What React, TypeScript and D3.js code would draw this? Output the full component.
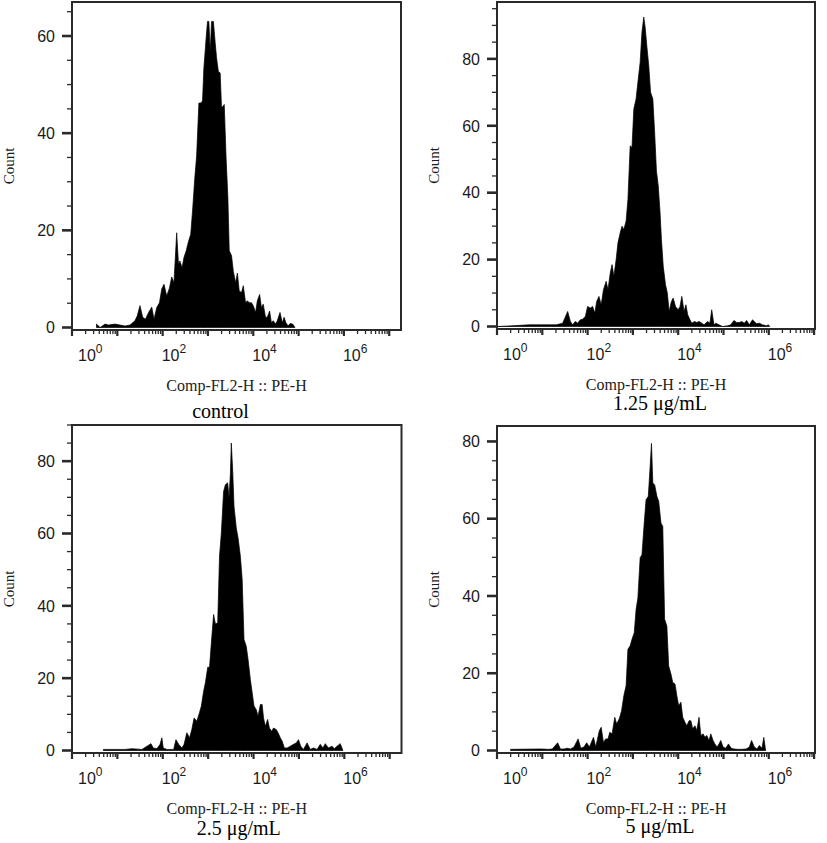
import * as d3 from 'd3';

// Flow cytometry histograms, Comp-FL2-H :: PE-H
const xAxisTitle = 'Comp-FL2-H :: PE-H';
const yAxisTitle = 'Count';
const decadeLabels = [0, 2, 4, 6];
const captions = ['control', '1.25 μg/mL', '2.5 μg/mL', '5 μg/mL'];
const countMax = [67, 97, 90, 84];
const fl2MaxExp = [7.26, 7.02, 7.26, 7.02];

// [log10(FL2-H), count]
const controlHist: [number, number][] = [
  [0.54, 0.7], [0.62, 0], [0.73, 0.7], [0.8, 0.5], [0.95, 0.7], [1.06, 0.5], [1.17, 0.3], [1.28, 0.5],
  [1.39, 1.4], [1.44, 2.4], [1.5, 4.5], [1.56, 2.1], [1.62, 1.7], [1.69, 3.1], [1.76, 4.2], [1.81, 1.7],
  [1.87, 4.1], [1.93, 5.1], [1.98, 7.9], [2.03, 8.9], [2.09, 6.5], [2.15, 8.1], [2.2, 10.4], [2.25, 9.2],
  [2.31, 19.5], [2.35, 13.0], [2.38, 13.7], [2.43, 12.3], [2.47, 14.4], [2.52, 15.8], [2.57, 17.7],
  [2.62, 19.2], [2.66, 24.0], [2.71, 30.8], [2.75, 35.3], [2.8, 46.2], [2.84, 46.2], [2.88, 46.6],
  [2.91, 53.4], [2.96, 59.6], [2.99, 63.0], [3.02, 63.0], [3.05, 56.8], [3.08, 63.0], [3.12, 63.0],
  [3.16, 58.6], [3.19, 55.5], [3.23, 52.7], [3.27, 52.4], [3.3, 45.2], [3.36, 45.9], [3.4, 35.0],
  [3.44, 26.7], [3.47, 15.8], [3.52, 14.8], [3.56, 11.6], [3.61, 9.2], [3.65, 11.2], [3.69, 7.5],
  [3.74, 7.2], [3.78, 8.6], [3.83, 5.1], [3.87, 5.5], [3.91, 5.1], [3.96, 5.1], [4.0, 4.5], [4.05, 3.1],
  [4.09, 5.5], [4.14, 6.8], [4.18, 4.1], [4.22, 4.8], [4.27, 2.1], [4.31, 2.1], [4.36, 3.4], [4.4, 1.0],
  [4.44, 1.4], [4.49, 0.7], [4.53, 1.4], [4.59, 3.1], [4.64, 1.0], [4.68, 2.1], [4.72, 1.0], [4.77, 0.3],
  [4.81, 0.8], [4.87, 0.7], [4.92, 0],
];

const dose125Hist: [number, number][] = [
  [0.0, 0.5], [0.03, 0], [0.72, 0.5], [0.98, 0.5], [1.2, 0.5], [1.31, 0.5], [1.45, 1.0], [1.56, 4.5],
  [1.62, 1.5], [1.67, 0.5], [1.73, 1.5], [1.78, 1.0], [1.84, 2.0], [1.89, 2.2], [1.95, 3.0], [2.0, 6.0],
  [2.06, 5.5], [2.11, 6.0], [2.16, 4.0], [2.2, 7.5], [2.25, 9.0], [2.3, 6.5], [2.35, 11.0], [2.41, 13.5],
  [2.45, 11.0], [2.5, 16.0], [2.54, 18.5], [2.58, 15.0], [2.63, 20.0], [2.67, 25.0], [2.72, 28.0],
  [2.76, 30.0], [2.8, 29.0], [2.85, 31.5], [2.89, 38.0], [2.94, 54.0], [2.98, 53.5], [3.02, 65.0],
  [3.07, 68.0], [3.11, 73.0], [3.16, 79.0], [3.2, 88.0], [3.24, 92.5], [3.27, 89.5], [3.31, 83.5],
  [3.35, 78.0], [3.39, 70.0], [3.44, 68.0], [3.48, 58.0], [3.52, 46.5], [3.56, 42.0], [3.6, 34.0],
  [3.63, 26.0], [3.67, 18.0], [3.72, 12.5], [3.76, 10.0], [3.8, 4.5], [3.85, 7.5], [3.89, 8.5],
  [3.94, 6.0], [4.0, 5.0], [4.04, 6.0], [4.08, 9.0], [4.13, 4.5], [4.17, 6.5], [4.21, 3.5], [4.26, 2.0],
  [4.3, 1.0], [4.36, 1.5], [4.41, 1.2], [4.46, 1.5], [4.52, 1.0], [4.57, 0.5], [4.65, 1.5], [4.7, 1.0],
  [4.74, 5.0], [4.79, 0.5], [4.83, 1.0], [4.9, 0.5], [4.98, 0], [5.09, 0.2], [5.16, 0.5], [5.23, 1.8],
  [5.29, 1.2], [5.35, 1.2], [5.4, 1.5], [5.46, 1.0], [5.51, 1.8], [5.57, 0.5], [5.64, 2.0], [5.68, 1.5],
  [5.73, 0.8], [5.79, 1.0], [5.86, 0.5], [5.95, 0.2], [5.99, 0.5], [6.02, 0],
];

const dose25Hist: [number, number][] = [
  [0.69, 0.3], [1.17, 0.3], [1.32, 0.5], [1.54, 0.3], [1.68, 1.4], [1.74, 1.9], [1.79, 0.7], [1.87, 0.5],
  [1.94, 1.7], [1.98, 3.5], [2.01, 0.7], [2.09, 0.3], [2.24, 0.3], [2.29, 3.0], [2.35, 1.7], [2.42, 0.7],
  [2.47, 1.7], [2.53, 4.9], [2.59, 3.5], [2.64, 5.8], [2.69, 9.0], [2.75, 8.1], [2.81, 10.5], [2.85, 12.3],
  [2.9, 16.4], [2.94, 18.8], [2.99, 23.0], [3.03, 23.0], [3.07, 29.7], [3.12, 37.6], [3.16, 35.0],
  [3.21, 35.3], [3.25, 53.7], [3.29, 60.1], [3.34, 71.6], [3.38, 73.5], [3.43, 74.0], [3.46, 69.8],
  [3.49, 76.6], [3.51, 85.0], [3.54, 77.6], [3.57, 67.5], [3.62, 61.5], [3.66, 58.7], [3.71, 53.7],
  [3.75, 47.2], [3.79, 30.7], [3.84, 28.8], [3.88, 25.1], [3.93, 19.6], [3.97, 16.0], [4.01, 12.3],
  [4.06, 11.3], [4.1, 9.5], [4.15, 12.7], [4.19, 12.7], [4.22, 9.0], [4.26, 6.7], [4.31, 8.6], [4.35, 6.2],
  [4.4, 5.3], [4.44, 6.2], [4.5, 5.8], [4.54, 4.9], [4.59, 3.5], [4.63, 2.6], [4.68, 0.7], [4.74, 0.7],
  [4.81, 1.2], [4.88, 1.7], [4.94, 2.1], [4.99, 3.0], [5.04, 1.2], [5.1, 0.3], [5.18, 2.1], [5.25, 0.3],
  [5.32, 0.7], [5.4, 0.3], [5.47, 1.7], [5.53, 0.7], [5.58, 1.9], [5.65, 0.7], [5.73, 1.2], [5.78, 0.5],
  [5.84, 1.2], [5.91, 1.9], [5.97, 0],
];

const dose5Hist: [number, number][] = [
  [0.3, 0.3], [0.97, 0.4], [1.14, 0.3], [1.22, 0.4], [1.34, 2.0], [1.4, 0.4], [1.48, 0.4], [1.55, 0.6],
  [1.62, 0.4], [1.7, 0.9], [1.79, 3.0], [1.85, 0.6], [1.92, 0.9], [1.98, 2.0], [2.04, 0.9], [2.13, 3.4],
  [2.18, 0.9], [2.26, 5.2], [2.3, 6.0], [2.35, 2.1], [2.4, 3.0], [2.45, 3.0], [2.49, 4.7], [2.54, 4.3],
  [2.6, 8.6], [2.64, 6.9], [2.7, 8.2], [2.75, 10.3], [2.8, 14.2], [2.85, 16.8], [2.89, 26.2], [2.94, 27.1],
  [2.98, 28.8], [3.03, 30.5], [3.07, 36.5], [3.11, 39.5], [3.16, 49.9], [3.2, 50.7], [3.25, 58.9],
  [3.29, 64.9], [3.34, 65.8], [3.38, 73.5], [3.41, 79.5], [3.44, 69.2], [3.48, 68.8], [3.53, 65.8],
  [3.57, 64.5], [3.62, 58.9], [3.66, 58.0], [3.7, 34.0], [3.75, 32.2], [3.79, 21.9], [3.84, 19.8],
  [3.88, 17.6], [3.93, 17.2], [3.97, 14.2], [4.01, 11.6], [4.06, 12.5], [4.1, 8.6], [4.15, 7.3],
  [4.19, 6.4], [4.24, 7.7], [4.28, 7.7], [4.32, 5.6], [4.37, 6.4], [4.41, 5.2], [4.46, 8.6], [4.5, 3.9],
  [4.55, 4.3], [4.59, 3.4], [4.63, 3.9], [4.68, 2.6], [4.72, 4.3], [4.77, 2.6], [4.81, 1.7], [4.86, 0.9],
  [4.9, 1.7], [4.94, 2.6], [4.99, 0.9], [5.05, 0.6], [5.11, 1.7], [5.17, 0.6], [5.23, 0.4], [5.31, 0.3],
  [5.4, 0.3], [5.5, 0.4], [5.57, 0.9], [5.62, 2.6], [5.68, 0.9], [5.74, 0.4], [5.79, 1.3], [5.85, 0.6],
  [5.89, 3.4], [5.93, 0],
];

const histograms = [controlHist, dose125Hist, dose25Hist, dose5Hist];

// plot boxes: left, right, top, bottom (x axis line)
const boxes = [
  { left: 72, right: 401, top: 2, bottom: 330 },
  { left: 497, right: 815, top: 2, bottom: 329 },
  { left: 72, right: 401.5, top: 425, bottom: 753 },
  { left: 497, right: 815, top: 426, bottom: 753 },
];

const AXIS = '#2a2a2a';
const SANS = '"Liberation Sans", Arial, sans-serif';
const SERIF = '"Liberation Serif", "Times New Roman", serif';

function Panel({ i }: { i: number }) {
  const box = boxes[i];
  const data = histograms[i];
  const x = d3.scaleLog().domain([1, Math.pow(10, fl2MaxExp[i])]).range([box.left, box.right]);
  const y = d3.scaleLinear().domain([0, countMax[i]]).range([box.bottom - 2.5, box.top]);

  const area = d3.area<[number, number]>()
    .x(d => x(Math.pow(10, d[0])))
    .y0(y(0))
    .y1(d => y(d[1]));

  const xTicks: { v: number; major: boolean }[] = [];
  for (let d = 0; d <= 7; d++) {
    for (let k = 1; k <= 9; k++) {
      const v = k * Math.pow(10, d);
      if (Math.log10(v) <= fl2MaxExp[i] + 1e-9) xTicks.push({ v, major: k === 1 });
    }
  }
  const yTicks = d3.range(0, countMax[i] + 0.01, 5);
  const cx = (box.left + box.right) / 2;
  const captionDx = i === 0 ? -16 : i === 2 ? 2 : 4;
  const captionY = i === 0 ? box.bottom + 88 : i === 1 ? box.bottom + 81 : i === 2 ? box.bottom + 82 : box.bottom + 80;

  return (
    <g>
      <path d={area(data) || ''} fill="#000" stroke="#000" strokeWidth={0.7} strokeLinejoin="miter" />
      <rect
        x={box.left}
        y={box.top}
        width={box.right - box.left}
        height={box.bottom - box.top}
        fill="none"
        stroke={AXIS}
        strokeWidth={2}
      />
      {xTicks.map(t => (
        <line
          key={t.v}
          x1={x(t.v)}
          x2={x(t.v)}
          y1={box.bottom}
          y2={box.bottom + (t.major ? 6 : 4)}
          stroke={AXIS}
          strokeWidth={t.major ? 2.2 : 1.3}
        />
      ))}
      {yTicks.map(v => (
        <line
          key={v}
          x1={box.left - (v % 20 === 0 ? 10 : 5)}
          x2={box.left}
          y1={y(v)}
          y2={y(v)}
          stroke={AXIS}
          strokeWidth={v % 20 === 0 ? 2.6 : 1.3}
        />
      ))}
      {yTicks.filter(v => v % 20 === 0).map(v => (
        <text
          key={'l' + v}
          x={box.left - 17}
          y={y(v)}
          dy="0.36em"
          textAnchor="end"
          fontFamily={SANS}
          fontSize={16}
          fill="#1a1a1a"
        >
          {v}
        </text>
      ))}
      {decadeLabels.map(e => (
        <text
          key={'d' + e}
          x={x(Math.pow(10, e)) + (e === 0 ? 6 : -1)}
          y={box.bottom + 31}
          fontFamily={SANS}
          fontSize={16}
          fill="#1a1a1a"
        >
          10
          <tspan dy={-8} fontSize={12}>{e}</tspan>
        </text>
      ))}
      <text
        transform={`translate(${box.left - 58},${(box.top + box.bottom) / 2}) rotate(-90)`}
        textAnchor="middle"
        fontFamily={SERIF}
        fontSize={15}
        fill="#1a1a1a"
      >
        {yAxisTitle}
      </text>
      <text x={cx} y={box.bottom + 61} textAnchor="middle" fontFamily={SERIF} fontSize={16} fill="#222">
        {xAxisTitle}
      </text>
      <text x={cx + captionDx} y={captionY} textAnchor="middle" fontFamily={SERIF} fontSize={20} fill="#000">
        {captions[i]}
      </text>
    </g>
  );
}

export default function App() {
  return (
    <svg
      width={827}
      height={843}
      style={{ position: 'absolute', left: 0, top: 0, background: '#fff' }}
    >
      {boxes.map((_, i) => (
        <Panel key={i} i={i} />
      ))}
    </svg>
  );
}
